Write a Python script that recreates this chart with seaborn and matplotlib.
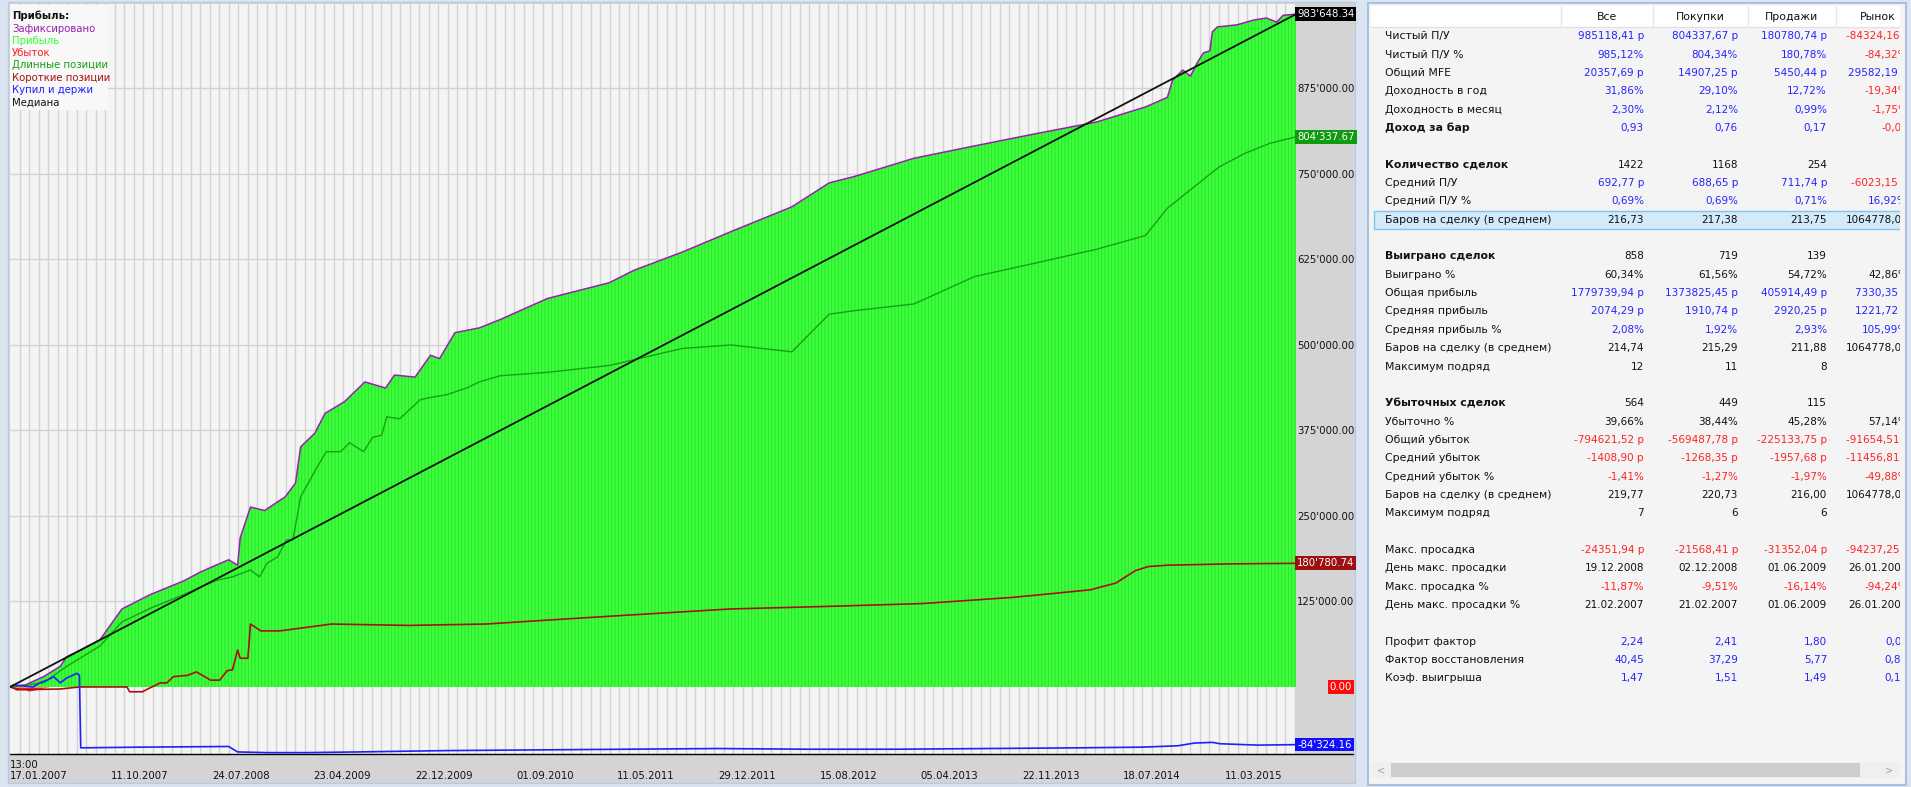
import numpy as np
import pandas as pd
import matplotlib
matplotlib.use('Agg')
import matplotlib.pyplot as plt
import seaborn as sns
from matplotlib.ticker import FixedLocator, MultipleLocator, FuncFormatter
from matplotlib.patches import Rectangle
import matplotlib.transforms as mtransforms

sns.set_style('white')
plt.rcParams['font.family'] = ['DejaVu Sans']
plt.rcParams['hatch.linewidth'] = 0.7

W, H = 1911, 787

# ---------------- chart data (x = % of test bars, y = rubles) ----------------
total_pos = [0, 1.2, 2.6, 3.9, 4.4, 5.4, 7.0, 8.7, 10.9, 13.5, 14.8, 17.0, 17.7, 17.9, 18.7,
             19.8, 21.4, 22.2, 22.6, 23.7, 24.5, 26.0, 27.6, 29.2, 29.9, 31.5, 32.7, 33.4,
             34.6, 36.5, 38.1, 41.8, 46.6, 48.5, 52.3, 56.1, 60.8, 63.7, 65.6, 70.3, 75.0,
             79.8, 84.5, 88.3, 90.0, 90.4, 91.2, 91.8, 92.3, 92.8, 93.3, 93.5, 93.9, 95.4,
             96.7, 97.7, 98.5, 99.0, 100]
total_val = [0, 3000, 15000, 30000, 44000, 53000, 69000, 114000, 135000, 155000, 168000,
             186000, 178000, 218000, 263000, 258000, 278000, 298000, 351000, 371000, 400000,
             417000, 446000, 437000, 456000, 453000, 485000, 480000, 518000, 525000, 537000,
             568000, 591000, 609000, 636000, 666000, 702000, 737000, 746000, 773000, 791000,
             809000, 826000, 848000, 862000, 887000, 902000, 893000, 912000, 927000, 930000,
             958000, 965000, 968000, 975000, 978000, 972000, 982000, 983648.34]

long_pos = [0, 2.6, 4.4, 7.0, 8.7, 10.9, 13.5, 14.8, 16.1, 17.3, 18.7, 19.4, 20.0, 20.8,
            21.5, 22.0, 22.6, 23.9, 24.6, 25.7, 26.4, 27.5, 28.2, 28.9, 29.3, 30.3, 31.9,
            32.9, 33.9, 35.5, 36.5, 38.1, 41.8, 46.6, 52.3, 56.1, 60.8, 63.7, 65.6, 70.3,
            75.0, 79.8, 84.5, 88.3, 90.0, 92.0, 94.0, 96.0, 98.0, 100]
long_val = [0, 6000, 30000, 60000, 95000, 115000, 135000, 146000, 156000, 161000, 171000,
            161000, 181000, 190000, 215000, 215000, 278000, 322000, 344000, 344000, 357000,
            344000, 365000, 368000, 395000, 392000, 420000, 424000, 427000, 437000, 446000,
            455000, 460000, 470000, 495000, 500000, 490000, 545000, 550000, 560000, 600000,
            620000, 640000, 660000, 700000, 730000, 760000, 780000, 795000, 804337.67]

short_pos = [0, 0.8, 3.9, 5.4, 9.1, 9.3, 10.3, 10.7, 11.7, 12.2, 12.7, 13.8, 14.5, 15.6,
             16.3, 16.9, 17.3, 17.7, 17.9, 18.5, 18.7, 19.5, 21.0, 25.0, 31.0, 37.0, 42.0,
             48.0, 56.0, 64.0, 71.0, 78.0, 84.0, 86.0, 87.5, 88.5, 90.0, 95.0, 100]
short_val = [0, -4000, -3000, 0, 0, -7000, -7000, -3000, 6000, 6000, 15000, 17000, 22000,
             10000, 10000, 24000, 25000, 54000, 42000, 42000, 92000, 82000, 82000, 92000,
             90000, 92000, 98000, 105000, 114000, 118000, 122000, 131000, 142000, 152000,
             170000, 176000, 178000, 180000, 180780.74]

hold_pos = [0, 0.3, 1.8, 2.3, 2.9, 3.4, 3.9, 4.4, 5.2, 5.4, 5.5, 10.0, 17.0, 17.7, 20.0,
            23.0, 27.0, 34.0, 41.0, 48.0, 55.0, 62.0, 69.0, 76.0, 83.0, 88.0, 90.8, 92.1,
            93.5, 94.1, 97.0, 100]
hold_val = [0, 3000, 0, 6000, 10000, 15000, 6000, 13000, 20000, 17000, -89000, -88000,
            -87000, -95000, -96000, -96000, -95000, -93000, -92000, -91000, -90000, -91000,
            -91000, -90000, -89000, -88000, -86000, -82000, -81000, -83000, -85000, -84324.16]

loss_pos = [0, 0.5, 1.0, 1.5, 2.0, 2.5, 3.0]
loss_val = [0, -5000, -3000, -6000, -4000, -2000, 0]

median_pos = [0, 100]
median_val = [0, 983648.34]

date_pos = [0, 7.87, 15.74, 23.61, 31.48, 39.35, 47.22, 55.09, 62.96, 70.83, 78.70, 86.57, 94.44]
date_labels = ['17.01.2007', '11.10.2007', '24.07.2008', '23.04.2009', '22.12.2009',
               '01.09.2010', '11.05.2011', '29.12.2011', '15.08.2012', '05.04.2013',
               '22.11.2013', '18.07.2014', '11.03.2015']

y_ticks = [125000, 250000, 375000, 500000, 625000, 750000, 875000]

legend_items = ['Зафиксировано', 'Прибыль', 'Убыток', 'Длинные позиции',
                'Короткие позиции', 'Купил и держи', 'Медиана']
legend_colors = ['#9a1fb0', '#33ff33', '#ff2020', '#16a016', '#a81010', '#2020ff', '#111111']

# ---------------- table data ----------------
col_names = ['Все', 'Покупки', 'Продажи', 'Рынок']
row_labels = ['Чистый П/У', 'Чистый П/У %', 'Общий MFE', 'Доходность в год',
              'Доходность в месяц', 'Доход за бар', '',
              'Количество сделок', 'Средний П/У', 'Средний П/У %', 'Баров на сделку (в среднем)', '',
              'Выиграно сделок', 'Выиграно %', 'Общая прибыль', 'Средняя прибыль',
              'Средняя прибыль %', 'Баров на сделку (в среднем)', 'Максимум подряд', '',
              'Убыточных сделок', 'Убыточно %', 'Общий убыток', 'Средний убыток',
              'Средний убыток %', 'Баров на сделку (в среднем)', 'Максимум подряд', '',
              'Макс. просадка', 'День макс. просадки', 'Макс. просадка %', 'День макс. просадки %', '',
              'Профит фактор', 'Фактор восстановления', 'Коэф. выигрыша']
bold_rows = ['Доход за бар', 'Количество сделок', 'Выиграно сделок', 'Убыточных сделок']
col_all = ['985118,41 р', '985,12%', '20357,69 р', '31,86%', '2,30%', '0,93', '',
           '1422', '692,77 р', '0,69%', '216,73', '',
           '858', '60,34%', '1779739,94 р', '2074,29 р', '2,08%', '214,74', '12', '',
           '564', '39,66%', '-794621,52 р', '-1408,90 р', '-1,41%', '219,77', '7', '',
           '-24351,94 р', '19.12.2008', '-11,87%', '21.02.2007', '',
           '2,24', '40,45', '1,47']
col_buy = ['804337,67 р', '804,34%', '14907,25 р', '29,10%', '2,12%', '0,76', '',
           '1168', '688,65 р', '0,69%', '217,38', '',
           '719', '61,56%', '1373825,45 р', '1910,74 р', '1,92%', '215,29', '11', '',
           '449', '38,44%', '-569487,78 р', '-1268,35 р', '-1,27%', '220,73', '6', '',
           '-21568,41 р', '02.12.2008', '-9,51%', '21.02.2007', '',
           '2,41', '37,29', '1,51']
col_sell = ['180780,74 р', '180,78%', '5450,44 р', '12,72%', '0,99%', '0,17', '',
            '254', '711,74 р', '0,71%', '213,75', '',
            '139', '54,72%', '405914,49 р', '2920,25 р', '2,93%', '211,88', '8', '',
            '115', '45,28%', '-225133,75 р', '-1957,68 р', '-1,97%', '216,00', '6', '',
            '-31352,04 р', '01.06.2009', '-16,14%', '01.06.2009', '',
            '1,80', '5,77', '1,49']
col_market = ['-84324,16 р', '-84,32%', '29582,19 р', '-19,34%', '-1,75%', '-0,08', '',
              '1', '-6023,15 р', '16,92%', '1064778,00', '',
              '', '42,86%', '7330,35 р', '1221,72 р', '105,99%', '1064778,00', '', '',
              '', '57,14%', '-91654,51 р', '-11456,81 р', '-49,88%', '1064778,00', '', '',
              '-94237,25 р', '26.01.2009', '-94,24%', '26.01.2009', '',
              '0,08', '0,89', '0,13']
row_kind = ['v', 'v', 'v', 'v', 'v', 'v', '', 'k', 'v', 'v', 'k', '',
            'k', 'k', 'v', 'v', 'v', 'k', 'k', '', 'k', 'k', 'v', 'v', 'v', 'k', 'k', '',
            'v', 'k', 'v', 'k', '', 'v', 'v', 'v']


def cell_color(kind, text):
    if kind == 'k':
        return '#111111'
    return '#ff2222' if text.startswith('-') else '#2424ff'


def px(x, y):
    return x / W, 1 - y / H


def money(v):
    return f"{v:,.2f}".replace(',', "'")


FS = 7.3

fig = plt.figure(figsize=(W / 100, H / 100), dpi=100, facecolor='#dbe5f2')

# panel backgrounds
fig.add_artist(Rectangle(px(8, 783), (1355 - 8) / W, (783 - 2) / H, transform=fig.transFigure,
                         facecolor='#d4d4d4', edgecolor='#b8cbe3', lw=1, zorder=0))
fig.add_artist(Rectangle(px(1368, 785), (1906 - 1368) / W, (785 - 3) / H, transform=fig.transFigure,
                         facecolor='#f4f4f4', edgecolor='#a9c0de', lw=1.5, zorder=0))
fig.add_artist(plt.Line2D([10 / W, 1353 / W], [1 - 754 / H] * 2, transform=fig.transFigure,
                          color='black', lw=1, zorder=6))

# ---------------- chart ----------------
x0, y0 = px(10, 754)
ax = fig.add_axes([x0, y0, (1296 - 10) / W, (754 - 4) / H], facecolor='#f4f4f4')
ax.set_xlim(0, 100)
ax.set_ylim(-98000, 998500)

ax.xaxis.set_minor_locator(MultipleLocator(0.74))
ax.grid(which='minor', axis='x', color='#d2d2d2', lw=1)
ax.grid(which='major', axis='y', color='#d2d2d2', lw=1)
ax.grid(which='major', axis='x', visible=False)
ax.set_axisbelow(True)

ax.fill_between(total_pos, 0, total_val, facecolor='#3cff3c', edgecolor='#2ee02e',
                hatch='|' * 5, lw=0, zorder=2)
ax.fill_between(loss_pos, 0, loss_val, color='#ff2020', lw=0, zorder=2)

sns.lineplot(x=total_pos, y=total_val, ax=ax, color='#9a1fb0', lw=1.1, sort=False, estimator=None, zorder=4)
sns.lineplot(x=long_pos, y=long_val, ax=ax, color='#16a016', lw=1.0, sort=False, estimator=None, zorder=4)
sns.lineplot(x=short_pos, y=short_val, ax=ax, color='#a81010', lw=1.2, sort=False, estimator=None, zorder=4)
sns.lineplot(x=hold_pos, y=hold_val, ax=ax, color='#2020ff', lw=1.2, sort=False, estimator=None, zorder=4)
sns.lineplot(x=median_pos, y=median_val, ax=ax, color='#111111', lw=1.3, sort=False, estimator=None, zorder=5)

for s in ['top', 'left', 'right', 'bottom']:
    ax.spines[s].set_visible(False)

ax.yaxis.tick_right()
ax.set_yticks(y_ticks)
ax.yaxis.set_major_formatter(FuncFormatter(lambda v, p: money(v)))
ax.tick_params(axis='y', length=0, pad=1, labelsize=FS, labelcolor='#111111')

ax.xaxis.set_major_locator(FixedLocator(date_pos))
ax.set_xticklabels(['13:00\n' + date_labels[0]] + ['\n' + d for d in date_labels[1:]])
for lab in ax.get_xticklabels():
    lab.set_ha('left')
ax.tick_params(axis='x', length=0, pad=4, labelsize=FS, labelcolor='#111111')
ax.set_xlabel('')
ax.set_ylabel('')

# value badges on the right axis
badge = mtransforms.blended_transform_factory(ax.transAxes, ax.transData)
for val, bg in [(total_val[-1], '#000000'), (long_val[-1], '#0f9a0f'),
                (short_val[-1], '#9e0f0f'), (hold_val[-1], '#1010ff')]:
    ax.text(1.001, val, money(val), transform=badge, ha='left', va='center',
            fontsize=FS, color='white', clip_on=False, zorder=10,
            bbox=dict(facecolor=bg, edgecolor='none', pad=1.3))
ax.text(1.0435, 0, '0.00', transform=badge, ha='right', va='center', fontsize=FS, color='white',
        clip_on=False, zorder=10, bbox=dict(facecolor='#ff0a0a', edgecolor='none', pad=1.3))

# legend block
fig.add_artist(Rectangle(px(10, 110), 98 / W, 105 / H, transform=fig.transFigure,
                         facecolor='#f8f8f8', edgecolor='none', zorder=3))
fig.text(12 / W, 1 - 16 / H, 'Прибыль:', fontsize=FS, fontweight='bold', color='#111111',
         va='center', zorder=4)
for i, (name, c) in enumerate(zip(legend_items, legend_colors)):
    fig.text(12 / W, 1 - (28.5 + i * 12.3) / H, name, fontsize=FS, color=c, va='center', zorder=4)

# ---------------- statistics table ----------------
tx0, ty0 = px(1370, 785)
at = fig.add_axes([tx0, ty0, (1900 - 1370) / W, (785 - 4) / H])
at.set_xlim(1370, 1900)
at.set_ylim(785, 4)
at.axis('off')

at.add_patch(Rectangle((1371, 6), 529, 21, facecolor='white', edgecolor='none'))
at.plot([1371, 1900], [27, 27], color='#e2e2e2', lw=1)
for xd in [1561, 1653, 1748, 1836]:
    at.plot([xd, xd], [6, 27], color='#e6e6e6', lw=1)
for name, xc in zip(col_names, [1607, 1700, 1792, 1878]):
    at.text(xc, 17, name, ha='center', va='center', fontsize=7.8, color='#111111', clip_on=True)

row_y0, row_h = 36.2, 18.35
hl = row_labels.index('Баров на сделку (в среднем)')
at.add_patch(Rectangle((1374, row_y0 + hl * row_h - 9), 530, 18, facecolor='#d3eafa',
                       edgecolor='#86c3ec', lw=1))

renderer = fig.canvas.get_renderer()
cells = [(col_all, 1570, 1644), (col_buy, 1662, 1738), (col_sell, 1757, 1827), (col_market, 1846, 1908)]
for i, lab in enumerate(row_labels):
    if not lab:
        continue
    y = row_y0 + i * row_h
    at.text(1385, y, lab, ha='left', va='center', fontsize=7.8, color='#111111',
            fontweight='bold' if lab in bold_rows else 'normal')
    for col, xl, xr in cells:
        txt = col[i]
        if not txt:
            continue
        t = at.text(xr, y, txt, ha='right', va='center', fontsize=7.5,
                    color=cell_color(row_kind[i], txt))
        left_d = at.transData.transform((xl, y))[0]
        right_d = min(at.transData.transform((xr, y))[0], at.transData.transform((1900, y))[0])
        if t.get_window_extent(renderer).x0 < left_d:
            t.set_ha('left')
            t.set_x(xl)
        t.set_clip_box(mtransforms.Bbox.from_extents(left_d - 2, 0, right_d, H))
        t.set_clip_on(True)

# scrollbar
at.add_patch(Rectangle((1372, 762), 528, 16, facecolor='#efefef', edgecolor='none'))
at.add_patch(Rectangle((1391, 763), 469, 14, facecolor='#cdcdcd', edgecolor='none'))
at.text(1381, 770, '<', ha='center', va='center', fontsize=7, color='#a0a0a0')
at.text(1889, 770, '>', ha='center', va='center', fontsize=7, color='#a0a0a0')

fig.savefig('out.png', dpi=100, facecolor=fig.get_facecolor())
